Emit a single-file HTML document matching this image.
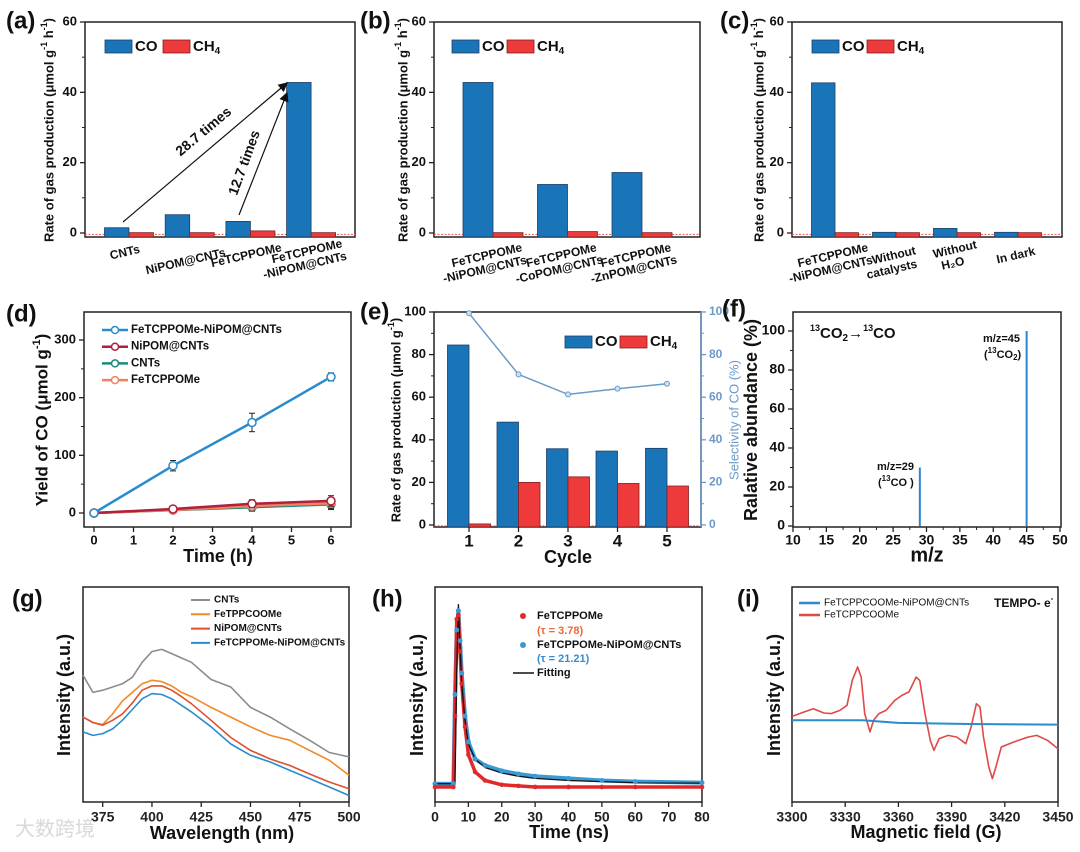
<!DOCTYPE html>
<html><head><meta charset="utf-8"><style>
html,body{margin:0;padding:0;background:#fff;}
svg{display:block;font-family:"Liberation Sans","Noto Sans CJK SC",sans-serif;}
</style></head><body>
<svg id="chart" width="1080" height="852" viewBox="0 0 1080 852" xmlns="http://www.w3.org/2000/svg"></svg>
<script>
// ---- data ----
const catA=['CNTs','NiPOM@CNTs','FeTCPPOMe','FeTCPPOMe|-NiPOM@CNTs'];
const coA=[1.5,5.2,3.3,42.8];
const ch4A=[0.1,0.1,0.6,0.1];
const catB=['FeTCPPOMe|-NiPOM@CNTs','FeTCPPOMe|-CoPOM@CNTs','FeTCPPOMe|-ZnPOM@CNTs'];
const coB=[42.8,13.8,17.2];
const ch4B=[0.1,0.4,0.1];
const catC=['FeTCPPOMe|-NiPOM@CNTs','Without|catalysts','Without|H₂O','In dark'];
const coC=[42.7,0.2,1.3,0.2];
const ch4C=[0.1,0.1,0.1,0.1];
const ticksRate=[0,20,40,60];
const timeD=[0,2,4,6];
const dBlue=[0,82,157,236];
const dBlueErr=[3,9,16,7];
const dRed=[0,7,16,21];
const dGreen=[0,5,10,15];
const dOrange=[0,5,12,17];
const dOtherErr=[3,5,7,9];
const ticksD=[0,100,200,300];
const cycE=[1,2,3,4,5];
const coE=[84.5,48.3,35.8,34.7,36.0];
const ch4E=[0.5,20.0,22.6,19.5,18.3];
const selE=[99.4,70.7,61.3,64.0,66.3];
const ticksE=[0,20,40,60,80,100];
const mzF=[29,45];
const abF=[30,100];
const ticksFx=[10,15,20,25,30,35,40,45,50];
const ticksFy=[0,20,40,60,80,100];
const wlG=[365,370,375,380,385,390,395,400,405,410,415,420,430,440,450,460,470,480,490,500];
const gGray=[59,51,52,53.5,55,58,65,70,71,69,67,65,57,53.5,44,39.5,34,28.7,23,21];
const gOrange=[39.5,37,36,41,47,51,55,56.6,56,54,51,49,44,39.5,35,31,28.7,24,19.4,12.4];
const gRed=[39.5,37,35.7,38,41,46,52,54,54,52,49,45.7,38,30,24,20,17,13,9.3,6.2];
const gBlue=[32.6,31,31.8,34,38,43,48,50.4,50,48,45,41.9,35,27,21.7,18.6,14.7,10.9,7,3];
const ticksG=[375,400,425,450,475,500];
const tH=[0,5.5,6,6.5,7,7.5,8,9,10,12,15,20,25,30,40,50,60,80];
const hRed=[7,7,40,85,87,70,55,35,22,14,10,8,7.5,7,7,7,7,7];
const hBlue=[8.5,8.5,50,80,89,75,60,40,28,20,17,14.5,13,12,11,10,9.5,9];
const hFit=[8.5,8.5,8.5,60,92,72,55,38,27,20,16,13.5,12,11,10,9.5,9,8.8];
const ticksH=[0,10,20,30,40,50,60,70,80];
const bI=[3300,3307,3312,3318,3322,3327,3331,3334,3337,3339,3341,3344,3346,3349,3353,3358,3362,3366,3370,3372,3375,3378,3380,3383,3388,3393,3398,3401,3404,3406,3408,3411,3413,3415,3418,3425,3433,3438,3444,3450];
const iRed=[39.8,41.9,43.4,41.4,41.1,42.6,45,56.6,62.8,58.1,41.1,32.6,38,41.1,42.6,47.3,49.6,51.2,58.1,56.6,41.1,28.7,24,29.5,31,30.2,27.1,34.9,45.7,44.2,30.2,16.3,10.9,16.3,25.6,27.9,30.2,31,28.7,24.8];
const bIblue=[3300,3340,3360,3400,3450];
const iBlue=[38,38,36.8,36.3,36];
const ticksI=[3300,3330,3360,3390,3420,3450];

// ---- helpers ----
const NS='http://www.w3.org/2000/svg';
const svg=document.getElementById('chart');
const BLUE='#1a74b8', RED='#ee3a3a';
function mk(tag,attrs,name,parent){
  const el=document.createElementNS(NS,tag);
  for(const k in attrs) el.setAttribute(k,attrs[k]);
  
  
  (parent||svg).appendChild(el);
  return el;
}
function txt(x,y,s,o,name){
  o=o||{};
  const t=mk('text',{x:x,y:y,'font-size':o.size||13,'font-weight':o.weight||'bold','text-anchor':o.anchor||'middle',fill:o.fill||'#111','dominant-baseline':'middle'},name);
  if(o.rot!==undefined) t.setAttribute('transform','rotate('+o.rot+' '+x+' '+y+')');
  if(o.html) t.innerHTML=s; else t.textContent=s;
  return t;
}
function lin(d0,d1,p0,p1){return v=>p0+(v-d0)*(p1-p0)/(d1-d0);}
function frame(x0,y0,x1,y1,name){
  mk('rect',{x:x0,y:y0,width:x1-x0,height:y1-y0,fill:'none',stroke:'#222','stroke-width':1.5},name);
}
function yTicks(sx,sy,ticks,minorStep,x,name,o){
  o=o||{};
  const side=o.right?1:-1;
  ticks.forEach(v=>{
    const y=sy(v);
    mk('line',{x1:x,x2:x+side*5,y1:y,y2:y,stroke:o.color||'#222','stroke-width':1.3},name+'-tick');
    txt(x+side*8,y,String(v),{anchor:o.right?'start':'end',size:o.size||13,fill:o.color||'#111'},name+'-label');
  });
  if(minorStep){
    for(let v=ticks[0]+minorStep; v<ticks[ticks.length-1]; v+=minorStep*2){
      const y=sy(v);
      mk('line',{x1:x,x2:x+side*3,y1:y,y2:y,stroke:o.color||'#222','stroke-width':1},name+'-minor-tick');
    }
  }
}
function xTicks(sx,ticks,y,name,o){
  o=o||{};
  ticks.forEach((v,i)=>{
    const x=sx(v);
    mk('line',{x1:x,x2:x,y1:y,y2:y+5,stroke:'#222','stroke-width':1.3},name+'-tick');
    txt(x,y+(o.dy||14),String(v),{size:o.size||13,fill:o.fill||'#111'},name+'-label');
    if(o.minor && i<ticks.length-1){
      const xm=sx((v+ticks[i+1])/2);
      mk('line',{x1:xm,x2:xm,y1:y,y2:y+3,stroke:'#222','stroke-width':1},name+'-minor-tick');
    }
  });
}
function path(sx,sy,xs,ys,attrs,name){
  const d=xs.map((x,i)=>(i?'L':'M')+sx(x).toFixed(1)+' '+sy(ys[i]).toFixed(1)).join(' ');
  const a=Object.assign({d:d,fill:'none'},attrs);
  return mk('path',a,name);
}
function panelLabel(x,y,s){txt(x,y,s,{size:24,anchor:'start'},'panel-label');}

// ---- bar panels a,b,c ----
function barPanel(cfg){
  const sy=lin(0,60,233,22);
  const ymin=-1.14;
  frame(cfg.x0,22,cfg.x1,237,cfg.id+'-frame');
  mk('line',{x1:cfg.x0,x2:cfg.x1,y1:sy(-0.4),y2:sy(-0.4),stroke:'#e55','stroke-width':1,'stroke-dasharray':'2 1.5'},cfg.id+'-zero-dotted-line');
  const band=i=>cfg.b0+i*cfg.step;
  cfg.co.forEach((v,i)=>{
    mk('rect',{x:band(i)-cfg.w,y:sy(v),width:cfg.w,height:sy(ymin)-sy(v),fill:BLUE,stroke:'#1d3f66','stroke-width':0.8},cfg.id+'-bar-co');
  });
  cfg.ch4.forEach((v,i)=>{
    mk('rect',{x:band(i),y:sy(v),width:cfg.w,height:sy(ymin)-sy(v),fill:RED,stroke:'#802020','stroke-width':0.8},cfg.id+'-bar-ch4');
  });
  yTicks(null,sy,ticksRate,10,cfg.x0,cfg.id+'-y');
  cfg.cats.forEach((c,i)=>{
    const parts=c.split('|');
    const cx=band(i)+(cfg.labOff||0), cy=cfg.labY[i];
    parts.forEach((p,j)=>{
      txt(cx+(j?-2:0),cy+j*14,p,{size:12,rot:-13},cfg.id+'-x-label');
    });
  });
  txt(cfg.yt,130,'Rate of gas production (μmol g<tspan dy="-5" font-size="9">-1</tspan><tspan dy="5"> h</tspan><tspan dy="-5" font-size="9">-1</tspan><tspan dy="5">)</tspan>',{size:13,rot:-90,html:true},cfg.id+'-y-axis-title');
  mk('rect',{x:cfg.lx,y:40,width:27,height:13,fill:BLUE,stroke:'#1d3f66','stroke-width':0.8},cfg.id+'-legend-co-swatch');
  txt(cfg.lx+30,47,'CO',{size:15,anchor:'start'},cfg.id+'-legend-co');
  mk('rect',{x:cfg.lx+cfg.lgap,y:40,width:27,height:13,fill:RED,stroke:'#802020','stroke-width':0.8},cfg.id+'-legend-ch4-swatch');
  txt(cfg.lx+cfg.lgap+30,47,'CH<tspan dy="4" font-size="10">4</tspan>',{size:15,anchor:'start',html:true},cfg.id+'-legend-ch4');
}
panelLabel(6,22,'(a)');
barPanel({id:'a',x0:85,x1:355,b0:129,step:60.7,w:24.5,co:coA,ch4:ch4A,cats:catA,labY:[253,262,256,252],labOff:-4,yt:50,lx:105,lgap:58});
mk('defs',{},'arrow-defs').innerHTML='<marker id="ah" markerWidth="8" markerHeight="8" refX="7" refY="4" orient="auto"><path d="M0,0 L8,4 L0,8 z" fill="#111"/></marker>';
mk('line',{x1:123,y1:222,x2:287,y2:83,stroke:'#111','stroke-width':1.2,'marker-end':'url(#ah)'},'arrow-28-7');
mk('line',{x1:239,y1:215,x2:287,y2:93,stroke:'#111','stroke-width':1.2,'marker-end':'url(#ah)'},'arrow-12-7');
txt(204,132,'28.7 times',{size:14,rot:-40},'annotation-28-7-times');
txt(245,163,'12.7 times',{size:14,rot:-70},'annotation-12-7-times');

panelLabel(360,22,'(b)');
barPanel({id:'b',x0:434,x1:700,b0:493,step:74.5,w:30,co:coB,ch4:ch4B,cats:catB,labY:[256,256,256],labOff:-6,yt:404,lx:452,lgap:55});
panelLabel(720,22,'(c)');
barPanel({id:'c',x0:792,x1:1062,b0:835,step:61,w:23.5,co:coC,ch4:ch4C,cats:catC,labY:[256,256,250,256],labOff:-2,yt:760,lx:812,lgap:55});

// ---- panel d ----
panelLabel(6,315,'(d)');
(function(){
  const sx=lin(0,6,94,331), sy=lin(0,300,513,340);
  frame(84,312,351,527,'d-frame');
  yTicks(sx,sy,ticksD,50,84,'d-y');
  xTicks(sx,[0,1,2,3,4,5,6],527,'d-x',{dy:14});
  const ser=[[dGreen,'#1d8a7a',dOtherErr,'CNTs'],[dOrange,'#f08060',dOtherErr,'FeTCPPOMe'],[dRed,'#b0203c',dOtherErr,'NiPOM@CNTs'],[dBlue,'#2a8ccc',dBlueErr,'FeTCPPOMe-NiPOM@CNTs']];
  ser.forEach(s=>{
    path(sx,sy,timeD,s[0],{stroke:s[1],'stroke-width':2.5},'d-line-'+s[3]);
    s[0].forEach((v,i)=>{
      const x=sx(timeD[i]);
      mk('line',{x1:x,x2:x,y1:sy(v-s[2][i]),y2:sy(v+s[2][i]),stroke:'#222','stroke-width':1},'d-error-bar');
      mk('line',{x1:x-3,x2:x+3,y1:sy(v-s[2][i]),y2:sy(v-s[2][i]),stroke:'#222','stroke-width':1},'d-error-cap');
      mk('line',{x1:x-3,x2:x+3,y1:sy(v+s[2][i]),y2:sy(v+s[2][i]),stroke:'#222','stroke-width':1},'d-error-cap');
      mk('circle',{cx:x,cy:sy(v),r:4,fill:'#fff',stroke:s[1],'stroke-width':1.5},'d-point');
    });
  });
  const leg=[['FeTCPPOMe-NiPOM@CNTs','#2a8ccc'],['NiPOM@CNTs','#b0203c'],['CNTs','#1d8a7a'],['FeTCPPOMe','#f08060']];
  leg.forEach((l,i)=>{
    const y=330+i*16.7;
    mk('line',{x1:102,x2:128,y1:y,y2:y,stroke:l[1],'stroke-width':2.5},'d-legend-line');
    mk('circle',{cx:115,cy:y,r:3.5,fill:'#fff',stroke:l[1],'stroke-width':1.5},'d-legend-marker');
    txt(131,y,l[0],{size:11.5,anchor:'start'},'d-legend-entry');
  });
  txt(43,420,'Yield of CO (μmol g<tspan dy="-6" font-size="11">-1</tspan><tspan dy="6">)</tspan>',{size:17,rot:-90,html:true},'d-y-axis-title');
  txt(218,557,'Time (h)',{size:18},'d-x-axis-title');
})();

// ---- panel e ----
panelLabel(360,313,'(e)');
(function(){
  const sy=lin(0,100,525,312);
  const band=c=>469+(c-1)*49.5;
  const ymin=-0.94, w=21.5;
  frame(434,312,701,527,'e-frame');
  mk('line',{x1:434,x2:701,y1:sy(-0.4),y2:sy(-0.4),stroke:'#e55','stroke-width':1,'stroke-dasharray':'2 1.5'},'e-zero-dotted-line');
  cycE.forEach((c,i)=>{
    mk('rect',{x:band(c)-w,y:sy(coE[i]),width:w,height:sy(ymin)-sy(coE[i]),fill:BLUE,stroke:'#1d3f66','stroke-width':0.8},'e-bar-co');
    mk('rect',{x:band(c),y:sy(ch4E[i]),width:w,height:sy(ymin)-sy(ch4E[i]),fill:RED,stroke:'#802020','stroke-width':0.8},'e-bar-ch4');
  });
  path(band,sy,cycE,selE,{stroke:'#6a9ac9','stroke-width':1.5},'e-selectivity-line');
  cycE.forEach((c,i)=>mk('circle',{cx:band(c),cy:sy(selE[i]),r:2.5,fill:'#cfe0f0',stroke:'#6a9ac9','stroke-width':1},'e-selectivity-point'));
  yTicks(null,sy,ticksE,10,434,'e-y-left');
  mk('line',{x1:701,x2:701,y1:312,y2:527,stroke:'#6a9ac9','stroke-width':1.5},'e-right-axis');
  yTicks(null,sy,ticksE,10,701,'e-y-right',{right:true,color:'#6a9ac9',size:12});
  cycE.forEach(c=>{
    mk('line',{x1:band(c),x2:band(c),y1:527,y2:532,stroke:'#222','stroke-width':1.3},'e-x-tick');
    txt(band(c),542,String(c),{size:17},'e-x-label');
  });
  txt(397,420,'Rate of gas production (μmol g<tspan dy="-5" font-size="9">-1</tspan><tspan dy="5">)</tspan>',{size:13,rot:-90,html:true},'e-y-axis-title');
  txt(735,420,'Selectivity of CO (%)',{size:13,rot:-90,fill:'#6a9ac9',weight:'normal'},'e-right-axis-title');
  txt(568,558,'Cycle',{size:18},'e-x-axis-title');
  mk('rect',{x:565,y:336,width:27,height:12,fill:BLUE,stroke:'#1d3f66','stroke-width':0.8},'e-legend-co-swatch');
  txt(595,342,'CO',{size:15,anchor:'start'},'e-legend-co');
  mk('rect',{x:620,y:336,width:27,height:12,fill:RED,stroke:'#802020','stroke-width':0.8},'e-legend-ch4-swatch');
  txt(650,342,'CH<tspan dy="4" font-size="10">4</tspan>',{size:15,anchor:'start',html:true},'e-legend-ch4');
})();

// ---- panel f ----
panelLabel(722,310,'(f)');
(function(){
  const sx=lin(10,50,793,1060), sy=lin(0,100,526,331);
  frame(793,312,1061,527,'f-frame');
  mzF.forEach((m,i)=>mk('line',{x1:sx(m),x2:sx(m),y1:sy(0),y2:sy(abF[i]),stroke:'#2a86d0','stroke-width':2},'f-peak'));
  yTicks(null,sy,ticksFy,10,793,'f-y',{size:14});
  xTicks(sx,ticksFx,527,'f-x',{dy:14,size:14,minor:true});
  txt(752,420,'Ralative abundance (%)',{size:18,rot:-90},'f-y-axis-title');
  txt(927,556,'m/z',{size:20},'f-x-axis-title');
  txt(810,334,'<tspan dy="-5" font-size="9">13</tspan><tspan dy="5">CO</tspan><tspan dy="4" font-size="10">2</tspan><tspan dy="-4">→</tspan><tspan dy="-5" font-size="9">13</tspan><tspan dy="5">CO</tspan>',{size:15,anchor:'start',weight:'bold',html:true},'f-reaction-annotation');
  txt(983,339,'m/z=45',{size:11,anchor:'start'},'f-peak-label-45');
  txt(984,355,'(<tspan dy="-4" font-size="8">13</tspan><tspan dy="4">CO</tspan><tspan dy="3" font-size="8">2</tspan><tspan dy="-3">)</tspan>',{size:11,anchor:'start',html:true},'f-peak-label-45-sub');
  txt(877,467,'m/z=29',{size:11,anchor:'start'},'f-peak-label-29');
  txt(878,483,'(<tspan dy="-4" font-size="8">13</tspan><tspan dy="4">CO )</tspan>',{size:11,anchor:'start',html:true},'f-peak-label-29-sub');
})();

// ---- panel g ----
panelLabel(12,600,'(g)');
(function(){
  const sx=lin(365,500,83,349), sy=lin(0,100,802,587);
  frame(83,587,349,802,'g-frame');
  [[gGray,'#8c8c8c','CNTs'],[gOrange,'#f08a24','FeTPPCOOMe'],[gRed,'#e0502a','NiPOM@CNTs'],[gBlue,'#2a8ccc','FeTCPPOMe-NiPOM@CNTs']].forEach(s=>{
    path(sx,sy,wlG,s[0],{stroke:s[1],'stroke-width':1.6,'stroke-linejoin':'round'},'g-spectrum-'+s[2]);
  });
  xTicks(sx,ticksG,802,'g-x',{dy:16,size:14,fill:'#222'});
  [['CNTs','#8c8c8c'],['FeTPPCOOMe','#f08a24'],['NiPOM@CNTs','#e0502a'],['FeTCPPOMe-NiPOM@CNTs','#2a8ccc']].forEach((l,i)=>{
    const y=600+i*14.3;
    mk('line',{x1:191,x2:210,y1:y,y2:y,stroke:l[1],'stroke-width':2},'g-legend-line');
    txt(214,y,l[0],{size:10,anchor:'start'},'g-legend-entry');
  });
  txt(65,695,'Intensity (a.u.)',{size:18,rot:-90},'g-y-axis-title');
  txt(222,834,'Wavelength (nm)',{size:18},'g-x-axis-title');
})();

// ---- panel h ----
panelLabel(372,600,'(h)');
(function(){
  const sx=lin(0,80,435,702), sy=lin(0,100,802,587);
  frame(435,587,702,802,'h-frame');
  path(sx,sy,tH,hBlue,{stroke:'#3a9ad6','stroke-width':4,'stroke-linejoin':'round'},'h-decay-blue');
  path(sx,sy,tH,hRed,{stroke:'#e02a2a','stroke-width':3.5,'stroke-linejoin':'round'},'h-decay-red');
  path(sx,sy,tH,hFit,{stroke:'#111','stroke-width':1.3},'h-fitting-line');
  tH.forEach((t,i)=>{
    mk('circle',{cx:sx(t),cy:sy(hBlue[i]),r:2.5,fill:'#3a9ad6'},'h-point-blue');
    mk('circle',{cx:sx(t),cy:sy(hRed[i]),r:2.3,fill:'#e02a2a'},'h-point-red');
  });
  xTicks(sx,ticksH,802,'h-x',{dy:16,size:14,fill:'#222'});
  mk('circle',{cx:523,cy:616,r:3,fill:'#e02a2a'},'h-legend-marker-red');
  txt(537,616,'FeTCPPOMe',{size:11,anchor:'start'},'h-legend-entry');
  txt(537,631,'(τ = 3.78)',{size:11,anchor:'start',fill:'#e86a3a'},'h-legend-tau-red');
  mk('circle',{cx:523,cy:645,r:3,fill:'#3a9ad6'},'h-legend-marker-blue');
  txt(537,645,'FeTCPPOMe-NiPOM@CNTs',{size:11,anchor:'start'},'h-legend-entry');
  txt(537,659,'(τ = 21.21)',{size:11,anchor:'start',fill:'#3a8ccc'},'h-legend-tau-blue');
  mk('line',{x1:513,x2:534,y1:673,y2:673,stroke:'#111','stroke-width':1.5},'h-legend-fit-line');
  txt(537,673,'Fitting',{size:11,anchor:'start'},'h-legend-entry');
  txt(418,695,'Intensity (a.u.)',{size:18,rot:-90},'h-y-axis-title');
  txt(569,833,'Time (ns)',{size:18},'h-x-axis-title');
})();

// ---- panel i ----
panelLabel(737,600,'(i)');
(function(){
  const sx=lin(3300,3450,792,1058), sy=lin(0,100,802,587);
  frame(792,587,1058,802,'i-frame');
  path(sx,sy,bI,iRed,{stroke:'#e04848','stroke-width':1.6,'stroke-linejoin':'round'},'i-spectrum-red');
  path(sx,sy,bIblue,iBlue,{stroke:'#2a8ccc','stroke-width':2},'i-spectrum-blue');
  xTicks(sx,ticksI,802,'i-x',{dy:16,size:14,fill:'#222'});
  mk('line',{x1:799,x2:820,y1:603,y2:603,stroke:'#2a8ccc','stroke-width':2.5},'i-legend-line-blue');
  txt(824,603,'FeTCPPCOOMe-NiPOM@CNTs',{size:10,anchor:'start',weight:'normal'},'i-legend-entry');
  mk('line',{x1:799,x2:820,y1:615,y2:615,stroke:'#e04848','stroke-width':2.5},'i-legend-line-red');
  txt(824,615,'FeTCPPCOOMe',{size:10,anchor:'start',weight:'normal'},'i-legend-entry');
  txt(994,604,'TEMPO- e<tspan dy="-5" font-size="8">-</tspan>',{size:12,anchor:'start',html:true},'i-annotation-tempo');
  txt(775,695,'Intensity (a.u.)',{size:18,rot:-90},'i-y-axis-title');
  txt(926,833,'Magnetic field (G)',{size:18},'i-x-axis-title');
})();
txt(15,830,'大数跨境',{size:20,anchor:'start',fill:'#d8d8d8',weight:'normal'},'watermark');
</script>
</body></html>
